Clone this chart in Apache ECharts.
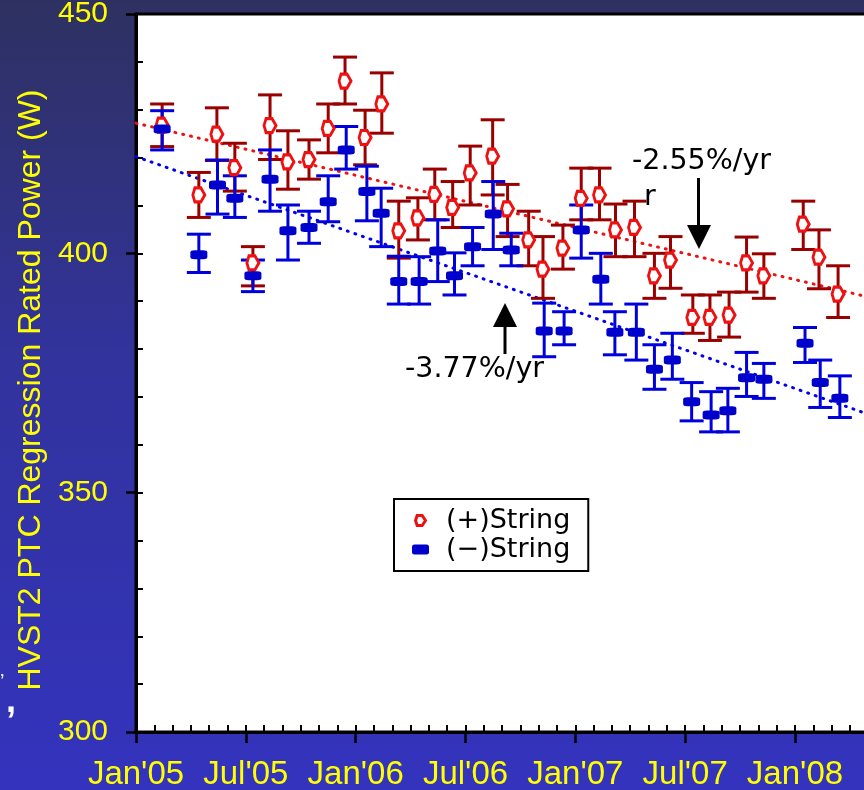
<!DOCTYPE html>
<html>
<head>
<meta charset="utf-8">
<script src="https://cdn.jsdelivr.net/npm/echarts@6/dist/echarts.min.js"></script>
<style>html,body{margin:0;padding:0;}#c{width:864px;height:790px;}</style>
</head>
<body>
<div id="c"></div>
<script>
// (+)String
const plusDates = ['2005-02-13','2005-04-14','2005-05-14','2005-06-13','2005-07-13','2005-08-11','2005-09-10','2005-10-15','2005-11-16','2005-12-14',
  '2006-01-17','2006-02-13','2006-03-12','2006-04-13','2006-05-11','2006-06-10','2006-07-09','2006-08-16','2006-09-10','2006-10-15','2006-11-08','2006-12-11',
  '2007-01-11','2007-02-10','2007-03-07','2007-04-08','2007-05-11','2007-06-07','2007-07-14','2007-08-12','2007-09-13','2007-10-12','2007-11-10',
  '2008-01-15','2008-02-10','2008-03-12'];
const plusValues = [426.8,412.2,424.9,417.9,398.0,426.7,419.1,419.6,426.1,436.0,
  424.2,431.2,404.7,407.4,412.3,409.6,416.8,420.3,409.3,402.8,396.7,401.1,
  411.5,412.2,404.9,405.4,395.3,398.6,386.6,386.6,387.1,398.0,395.3,
  406.1,399.2,391.5];
const plusLow = [422.3,407.5,419.4,413.0,393.2,419.6,413.4,415.5,421.0,431.2,
  418.5,425.1,399.0,402.8,407.0,405.4,410.1,412.2,403.5,397.4,390.6,396.7,
  407.0,407.0,399.3,399.3,390.6,392.7,383.3,381.8,382.5,391.9,390.6,
  400.8,392.6,386.6];
const plusHigh = [431.2,416.9,430.4,423.0,401.4,433.1,425.6,423.7,431.2,441.0,
  429.9,437.7,410.9,411.6,417.6,415.0,422.4,427.9,414.4,408.8,403.5,405.9,
  417.8,417.8,410.3,410.9,400.0,403.5,391.3,391.3,391.9,403.4,399.9,
  410.9,404.9,397.4];

// (−)String
const minusDates = ['2005-02-13','2005-04-14','2005-05-15','2005-06-13','2005-07-13','2005-08-11','2005-09-10','2005-10-15','2005-11-16','2005-12-16',
  '2006-01-20','2006-02-12','2006-03-12','2006-04-15','2006-05-16','2006-06-13','2006-07-13','2006-08-17','2006-09-16','2006-11-10','2006-12-13',
  '2007-01-11','2007-02-12','2007-03-06','2007-04-11','2007-05-11','2007-06-10','2007-07-12','2007-08-14','2007-09-11','2007-10-12','2007-11-10',
  '2008-01-18','2008-02-12','2008-03-15'];
const minusValues = [426.0,399.7,414.3,411.5,395.3,415.5,404.7,405.4,410.8,421.6,
  412.9,408.4,394.1,394.1,400.5,395.3,401.4,408.2,400.7,383.8,383.8,
  404.9,394.6,383.5,383.5,375.8,377.7,369.0,366.2,367.1,374.0,373.7,
  381.2,373.0,369.7];
const minusLow = [421.6,396.0,408.2,407.5,392.0,408.8,398.6,402.1,406.6,417.6,
  406.8,401.4,389.4,389.4,394.1,391.3,397.4,400.8,397.4,378.4,380.9,
  399.0,389.4,378.8,377.7,371.6,373.7,365.0,362.7,362.7,370.1,369.7,
  377.2,367.8,365.7];
const minusHigh = [429.8,404.0,419.5,416.2,398.6,421.6,410.1,408.8,416.2,426.5,
  418.2,413.6,399.4,399.3,407.0,400.1,405.4,415.0,404.2,389.6,387.8,
  410.1,400.0,387.8,389.4,380.9,383.3,373.0,371.1,371.8,379.3,377.0,
  384.5,377.7,374.4];

// Trend lines (start / end)
const trendDates = ['2005-01-01','2008-04-24'];
const plusTrend = [427.2, 391.1];
const minusTrend = [420.2, 366.7];

// Axis ticks
const yTicks = [300, 350, 400, 450];
const xTickLabels = ["Jan'05","Jul'05","Jan'06","Jul'06","Jan'07","Jul'07","Jan'08"];

function toM(s) {
  const p = s.split('-').map(Number);
  const dim = new Date(p[0], p[1], 0).getDate();
  return (p[0] - 2005) * 12 + (p[1] - 1) + (p[2] - 1) / dim;
}
const plusPts = plusDates.map((d, i) => [toM(d), plusValues[i]]);
const minusPts = minusDates.map((d, i) => [toM(d), minusValues[i]]);
const plusErr = plusDates.map((d, i) => [toM(d), plusLow[i], plusHigh[i]]);
const minusErr = minusDates.map((d, i) => [toM(d), minusLow[i], minusHigh[i]]);
const plusTr = trendDates.map((d, i) => [toM(d), plusTrend[i]]);
const minusTr = trendDates.map((d, i) => [toM(d), minusTrend[i]]);

function errRender(color) {
  return function (params, api) {
    const x = api.value(0);
    const lo = api.coord([x, api.value(1)]);
    const hi = api.coord([x, api.value(2)]);
    const hw = 12;
    const st = { stroke: color, lineWidth: 3 };
    return {
      type: 'group',
      children: [
        { type: 'line', shape: { x1: lo[0], y1: lo[1], x2: hi[0], y2: hi[1] }, style: st },
        { type: 'line', shape: { x1: lo[0] - hw, y1: lo[1], x2: lo[0] + hw, y2: lo[1] }, style: st },
        { type: 'line', shape: { x1: hi[0] - hw, y1: hi[1], x2: hi[0] + hw, y2: hi[1] }, style: st }
      ]
    };
  };
}

const FONT = 'Liberation Sans, Arial, sans-serif';
const DJ = 'DejaVu Sans, sans-serif';
const YEL = '#ffff00';
const redSym = 'path://M2,0 L8,0 L12,6 L8,12 L2,12 L0,6 Z';

const chart = echarts.init(document.getElementById('c'), null, { renderer: 'canvas' });
chart.setOption({
  animation: false,
  backgroundColor: {
    type: 'linear', x: 0, y: 0, x2: 0, y2: 1,
    colorStops: [{ offset: 0, color: '#2e3160' }, { offset: 0.45, color: '#32339c' }, { offset: 1, color: '#3333be' }]
  },
  grid: {
    left: 136, top: 14, width: 732.2, height: 718,
    outerBoundsMode: 'none', containLabel: false,
    show: true, backgroundColor: '#ffffff', borderColor: '#000', borderWidth: 3
  },
  xAxis: [{
    type: 'value', min: 0, max: 40, interval: 6, position: 'bottom',
    axisLine: { onZero: false, lineStyle: { color: '#000', width: 3 } },
    axisTick: { length: 11, lineStyle: { color: '#000', width: 2.5 } },
    splitLine: { show: false },
    axisLabel: {
      margin: 26, color: YEL, fontSize: 33, fontFamily: FONT,
      formatter: v => (v % 6 === 0 && v / 6 < xTickLabels.length) ? xTickLabels[v / 6] : ''
    }
  }, {
    type: 'value', min: 0, max: 40, interval: 1, position: 'bottom',
    axisLine: { show: false, onZero: false },
    axisTick: { inside: true, length: 7, lineStyle: { color: '#000', width: 2 } },
    axisLabel: { show: false }, splitLine: { show: false }
  }],
  yAxis: [{
    type: 'value', min: yTicks[0], max: yTicks[yTicks.length - 1], interval: 50,
    axisLine: { onZero: false, lineStyle: { color: '#000', width: 3 } },
    axisTick: { length: 10, lineStyle: { color: '#000', width: 2.5 } },
    splitLine: { show: false },
    axisLabel: { margin: 28, color: YEL, fontSize: 30, fontFamily: FONT },
    name: 'HVST2 PTC Regression Rated Power (W)',
    nameLocation: 'middle', nameRotate: 90, nameGap: 75,
    nameTextStyle: { color: YEL, fontSize: 32, fontFamily: FONT, padding: [0, 34, 0, 0] }
  }, {
    type: 'value', min: 300, max: 450, interval: 10, position: 'left',
    axisLine: { show: false, onZero: false },
    axisTick: { inside: true, length: 7, lineStyle: { color: '#000', width: 2 } },
    axisLabel: { show: false }, splitLine: { show: false }
  }],
  legend: {
    orient: 'vertical', left: 394, top: 499,
    borderColor: '#000', borderWidth: 2, backgroundColor: '#fff',
    padding: [8, 18, 8, 18], itemGap: 2, itemWidth: 17, itemHeight: 10,
    textStyle: { color: '#000', fontSize: 27, fontFamily: DJ, padding: [0, 0, 0, 12] },
    data: [
      { name: '(+)String', icon: redSym, itemStyle: { color: '#fff', borderColor: '#ee1111', borderWidth: 3 } },
      { name: '(\u2212)String', icon: 'roundRect', itemStyle: { color: '#0000cc' } }
    ]
  },
  series: [
    { type: 'line', data: minusTr, symbol: 'none', silent: true, z: 1,
      lineStyle: { color: '#0000ee', width: 3, type: [1, 7], cap: 'round' } },
    { type: 'line', data: plusTr, symbol: 'none', silent: true, z: 1,
      lineStyle: { color: '#ee1111', width: 3, type: [1, 7], cap: 'round' } },
    { type: 'custom', data: plusErr, renderItem: errRender('#990000'), z: 2 },
    { type: 'custom', data: minusErr, renderItem: errRender('#0000dd'), z: 3 },
    { name: '(+)String', type: 'scatter', data: plusPts, symbol: redSym, symbolSize: [12, 14], z: 4,
      itemStyle: { color: '#ffffff', borderColor: '#ee1111', borderWidth: 3, opacity: 1 } },
    { name: '(\u2212)String', type: 'scatter', data: minusPts, symbol: 'roundRect', symbolSize: [17, 9], z: 5,
      itemStyle: { color: '#0000cc', opacity: 1 } }
  ],
  graphic: [
    { type: 'text', left: 632, top: 147, z: 100,
      style: { text: '-2.55%/yr', fill: '#000', font: '28.5px ' + DJ } },
    { type: 'text', left: 644, top: 183, z: 100,
      style: { text: 'r', fill: '#000', font: '28.5px ' + DJ } },
    { type: 'line', z: 100, shape: { x1: 698.5, y1: 178, x2: 698.5, y2: 228 }, style: { stroke: '#000', lineWidth: 3 } },
    { type: 'polygon', z: 100, shape: { points: [[687, 225], [711, 225], [699, 249]] }, style: { fill: '#000' } },
    { type: 'text', left: 405, top: 355, z: 100,
      style: { text: '-3.77%/yr', fill: '#000', font: '28.5px ' + DJ } },
    { type: 'line', z: 100, shape: { x1: 505, y1: 324, x2: 505, y2: 354 }, style: { stroke: '#000', lineWidth: 3 } },
    { type: 'polygon', z: 100, shape: { points: [[493, 327], [517, 327], [505, 303]] }, style: { fill: '#000' } },
    { type: 'text', left: 6, top: 684, z: 100,
      style: { text: ',', fill: '#fff', font: 'bold 36px ' + FONT } },
    { type: 'text', left: 0, top: 672, z: 100,
      style: { text: '\u2019', fill: '#fff', font: '20px ' + FONT } }
  ]
});
</script>
</body>
</html>
